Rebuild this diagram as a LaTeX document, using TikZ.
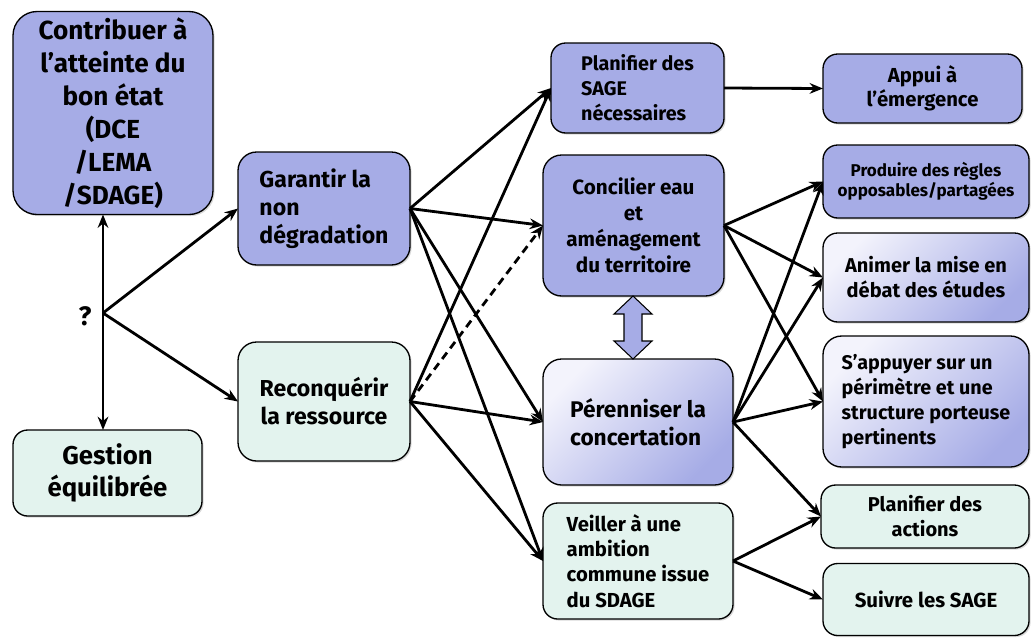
\documentclass[tikz,border=0pt]{standalone}
\usepackage{fontspec}
\setmainfont{Fira Sans}
\usetikzlibrary{arrows.meta,shadows}
\definecolor{sageBlue}{HTML}{A6ACE6}
\definecolor{sagePale}{HTML}{F3F3FC}
\definecolor{sageGreen}{HTML}{E3F3EE}
\tikzset{
  sage diagram/.style={
    x=0.75pt, y=-0.75pt, line width=2.1pt,
    >={Stealth[length=10pt,width=8pt]},
    every node/.style={text=black, inner sep=0pt, outer sep=0pt}
  },
  sage box/.style 2 args={draw=black, line width=1pt, rounded corners=11pt,
    minimum width=#1*0.75pt, minimum height=#2*0.75pt,
    drop shadow={shadow xshift=1.2pt, shadow yshift=-1.2pt, opacity=0.3}},
  sage blue/.style={fill=sageBlue},
  sage green/.style={fill=sageGreen},
  sage shade/.style={top color=sagePale, bottom color=sageBlue, shading angle=45},
  sage font/.style 2 args={font=\fontsize{#1}{#2}\selectfont\bfseries},
  sage dashed/.style={dashed, dash pattern=on 6pt off 4pt}
}

\begin{document}
\begin{tikzpicture}[sage diagram]
  \useasboundingbox (0,0) rectangle (1031,637);
  \node[sage box={200}{203}, sage blue, rounded corners=18pt, sage font={19.6}{24.75}, align=center]
    (contrib) at (113,113) {Contribuer à\\l’atteinte du\\bon état\\(DCE\\/LEMA\\/SDAGE)};
  \node[sage box={189}{86}, sage green, sage font={19.3}{24}, align=center]
    (gestion) at (107.5,473) {Gestion\\équilibrée};
  \node[sage box={172}{113}, sage blue, rounded corners=14pt, sage font={17.3}{21}, align=left]
    (garantir) at (324,208.5) {Garantir la\\non\\dégradation};
  \node[sage box={172}{119}, sage green, rounded corners=14pt, sage font={17.3}{21}, align=center]
    (reconq) at (324,401.5) {Reconquérir\\la ressource};
  \node[sage box={173}{90}, sage blue, sage font={14.8}{18.75}, align=left]
    (plansage) at (637.5,88) {Planifier des\\SAGE\\nécessaires};
  \node[sage box={181}{141}, sage blue, rounded corners=14pt, sage font={15.5}{19.5}, align=center]
    (concilier) at (633.5,225.5) {Concilier eau\\et\\aménagement\\du territoire};
  \node[sage box={190}{126}, sage shade, rounded corners=14pt, sage font={17}{21}, align=left]
    (perenniser) at (638,422) {Pérenniser la\\concertation};
  \node[sage box={190}{116}, sage green, sage font={15.2}{19}, align=left]
    (veiller) at (638,561) {Veiller à une\\ambition\\commune issue\\du SDAGE};
  \node[sage box={199}{69}, sage blue, sage font={15.2}{18}, align=center]
    (appui) at (922.5,88.5) {Appui à\\l’émergence};
  \node[sage box={206}{73}, sage blue, sage font={12.8}{15}, align=center]
    (produire) at (926,181.5) {Produire des règles\\opposables/partagées};
  \node[sage box={206}{89}, sage shade, sage font={15}{18.75}, align=center]
    (animer) at (926,277.5) {Animer la mise en\\débat des études};
  \node[sage box={206}{131}, sage shade, rounded corners=14pt, sage font={14.8}{18.75}, align=left]
    (sappuyer) at (926,401.5) {S’appuyer sur un\\périmètre et une\\structure porteuse\\pertinents};
  \node[sage box={208}{63}, sage green, sage font={15}{18.75}, align=center]
    (planact) at (925,516.5) {Planifier des\\actions};
  \node[sage box={206}{72}, sage green, sage font={15.3}{18.75}, align=center]
    (suivre) at (926,599.5) {Suivre les SAGE};

  \coordinate (fork) at (103,313);
  \node[sage font={20}{24}] (quest) at (85,316) {?};
  \draw[<->] (contrib.south -| fork) -- (gestion.north -| fork);
  \draw[->] (fork) -- (garantir.west);
  \draw[->] (fork) -- (reconq.west);

  \foreach \tgt in {plansage,concilier,perenniser,veiller}
    \draw[->] (garantir.east) -- (\tgt.west);
  \foreach \tgt in {plansage,perenniser,veiller}
    \draw[->] (reconq.east) -- (\tgt.west);
  \draw[->, sage dashed] (reconq.east) -- (concilier.west);

  \draw[->] (plansage.east) -- (appui.west);
  \foreach \tgt in {produire,animer,sappuyer}
    \draw[->] (concilier.east) -- (\tgt.west);
  \foreach \tgt in {produire,animer,sappuyer,planact}
    \draw[->] (perenniser.east) -- (\tgt.west);
  \draw[->] (veiller.east) -- (planact.west);
  \draw[->] (veiller.east) -- (suivre.west);

  \draw[fill=sageBlue, line width=0.8pt] (633,296) -- (652,314) -- (642,314)
    -- (642,341) -- (652,341) -- (633,359) -- (614,341) -- (624,341)
    -- (624,314) -- (614,314) -- cycle;
\end{tikzpicture}
\end{document}
